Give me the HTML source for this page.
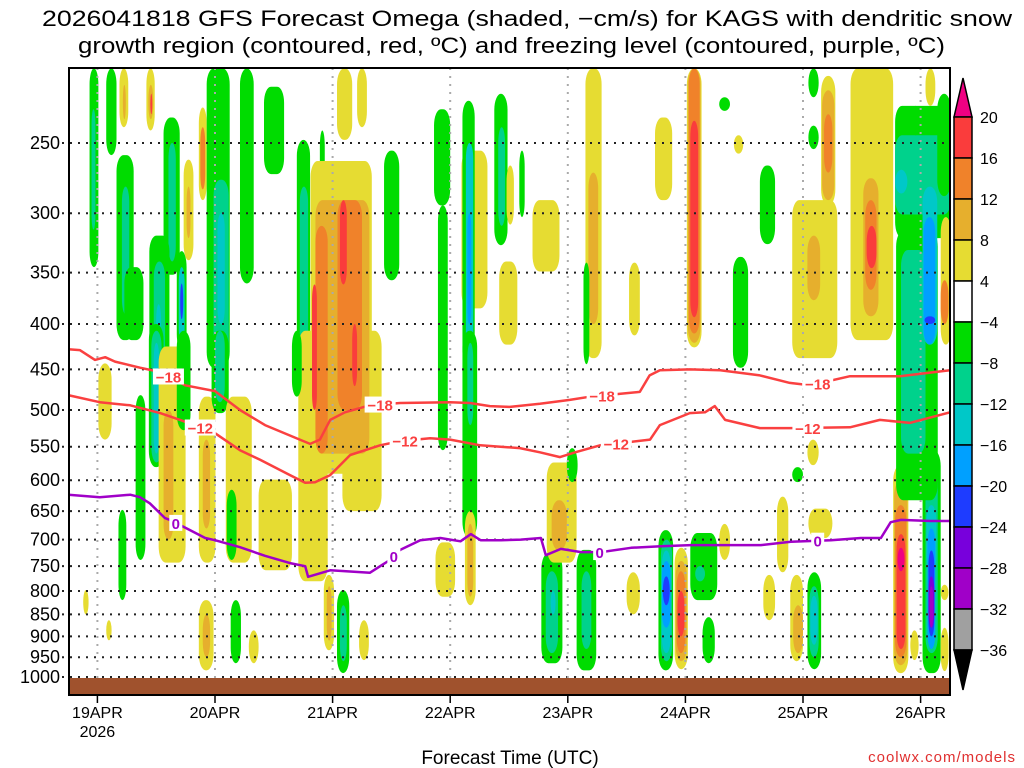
<!DOCTYPE html>
<html><head><meta charset="utf-8"><style>
html,body{margin:0;padding:0;background:#fff;}
svg{display:block;font-family:"Liberation Sans",sans-serif;}
</style></head><body>
<svg id="chart" width="1024" height="768" viewBox="0 0 1024 768">
<g font-size="22" fill="#000">
<text x="42" y="26" textLength="970" lengthAdjust="spacingAndGlyphs">2026041818 GFS Forecast Omega (shaded, −cm/s) for KAGS with dendritic snow</text>
<text x="78" y="53" textLength="867" lengthAdjust="spacingAndGlyphs">growth region (contoured, red, ºC) and freezing level (contoured, purple, ºC)</text>
</g>
<defs><clipPath id="plotclip"><rect x="70" y="68" width="880" height="627"/></clipPath></defs>
<g id="shading" clip-path="url(#plotclip)"></g>
<g id="grid"></g>
<g id="contours" clip-path="url(#plotclip)"></g>
<rect x="70" y="678" width="880" height="17" fill="#a0522d"/>
<rect x="69" y="68" width="881" height="627" fill="none" stroke="#000" stroke-width="2"/>
<g id="yaxis" font-size="18" text-anchor="end"></g>
<g id="xaxis" font-size="16" text-anchor="middle"></g>
<text x="510" y="764" font-size="19" text-anchor="middle">Forecast Time (UTC)</text>
<text x="1016" y="762" font-size="15" text-anchor="end" fill="#e03030" letter-spacing="1">coolwx.com/models</text>
<g id="colorbar" font-size="16"></g>
</svg>
<script>
// ---- data ----
const pressureLevels = [250,300,350,400,450,500,550,600,650,700,750,800,850,900,950,1000];
const dayHours = [0,24,48,72,96,120,144,168];
const dayLabels = ["19APR","20APR","21APR","22APR","23APR","24APR","25APR","26APR"];
const cbLevels = [20,16,12,8,4,-4,-8,-12,-16,-20,-24,-28,-32,-36];
// omega cells: [startHour, endHour, topHPa, bottomHPa, value]
const omegaCells = [
[-1.6,0.2,206,345,-6],[-1.2,-0.4,229,313,-10],
[1.8,3.9,206,258,-6],[3.9,7.4,258,417,-6],[5,6.5,280,390,-10],[5.5,9.4,345,417,-6],
[4.5,6.3,206,240,6],[5.2,5.8,215,235,10],
[10,11.7,206,242,6],[10.4,11.4,215,235,10],[10.8,11.2,220,232,18],
[13.5,16.8,234,352,-6],[14.5,16,250,340,-10],
[10.6,14.7,318,448,-6],[11.5,13.8,340,448,-10],[12,13,380,448,-14],
[16.2,18.2,331,428,-6],[16.6,17.8,345,420,-14],[16.9,17.5,360,395,-22],
[17.6,19.6,261,339,6],[18.2,19,280,320,10],
[20.7,22.3,228,290,6],[21,22,240,282,14],
[22.3,27,206,448,-6],[23.7,26.8,275,448,-10],[24.5,26,300,400,-14],
[29.1,31.9,206,360,-6],[34,38.1,216,271,-6],
[40.7,43.4,248,448,-6],[41.3,43,280,440,-10],[45.4,46.4,242,305,-6],
[43.5,56,262,590,6],[48.9,52,206,248,6],[53,55,206,240,6],[41,47,407,780,6],[50,58,407,650,6],
[44.5,55.5,290,560,10],[44.5,47,310,560,14],[49,54,290,500,14],
[49.5,50.9,290,361,18],[43.8,44.8,361,500,18],[52,53,400,470,18],
[58.5,61.6,255,357,-6],[68.7,72,229,294,-6],[69.5,71.5,294,555,-6],
[74.3,79.6,255,384,6],
[74.5,77,224,448,-6],[75.2,76.7,250,440,-14],[75.5,76.3,300,400,-18],
[81,83.7,220,326,-6],[81.8,83.2,240,310,-10],
[74.5,77.5,407,697,-6],[75.5,76.7,420,520,-10],
[75,77.2,650,830,6],[75.5,76.7,672,812,10],[69,73,705,812,6],
[0.2,2.9,443,540,6],
[10.5,13.5,400,580,-6],[11,13.1,407,573,-10],[11.5,12.6,420,560,-14],
[7.8,9.8,481,738,-6],
[12.5,18,424,743,6],[13.5,15.5,500,700,10],[16.2,19,407,527,-6],
[20.7,24.1,483,743,6],[21.5,23,540,680,10],
[23.3,26.8,407,504,-6],[24,26,407,490,-10],
[26.2,31.5,483,743,6],[26.4,28.4,615,738,-6],[39.7,41.7,407,483,-6],
[32.9,39.7,599,758,6],[4.3,5.9,648,819,-6],
[-2.9,-1.8,798,850,6],[1.8,2.9,863,909,6],
[20.7,23.7,819,983,6],[21.5,23,850,950,10],[27.2,29.3,819,965,-6],[30.9,32.9,886,965,6],
[46.2,48.3,767,933,6],[46.8,47.8,790,910,10],
[48.9,51.4,798,990,-6],[49.5,50.9,830,960,-10],[53.4,55.4,863,957,6],
[90.6,94.9,725,965,-6],[91.5,94,760,940,-10],[92.5,93.5,800,850,-14],
[97.8,101.8,719,983,-6],[98.8,100.8,760,930,-10],
[91.7,97.8,573,743,6],[92.7,95.8,632,720,10],[95.8,98,552,603,-6],
[108,110.7,762,850,6],
[114.5,117.5,683,983,-6],[115,117.3,700,960,-10],[115.2,117,720,940,-14],[115.2,117,740,880,-18],[115.4,116.8,770,830,-22],
[117.8,120.5,715,980,6],[118,120.3,740,960,10],[118.2,120,760,940,14],[118.4,119.8,800,900,18],
[121,126.5,688,819,-6],[122,124,750,780,-10],[123.5,126,856,965,-6],
[126.9,129.1,672,738,6],[138.7,141,626,762,6],[135.9,138.3,767,863,6],
[141.4,144,767,960,6],[142,144,830,940,10],
[144.9,147.7,762,980,-6],[145.3,147.2,790,950,-10],[145.5,147,810,920,-14],
[141.8,144,580,603,-6],[145.1,150,646,697,6],[144.9,147.2,540,577,6],
[162.4,165.5,577,990,6],[162.6,165.3,600,970,10],[162.8,165.1,640,950,14],[163.1,164.9,690,930,18],[163.3,164.7,715,760,22],
[165.9,167.6,886,957,6],
[168.4,172.1,555,990,-6],[169,171.5,577,940,-10],[169.2,171.2,640,760,-14],[169.4,171,680,930,-18],[169.6,170.8,720,900,-22],[169.6,170.8,770,880,-26],[169.8,170.6,790,880,-30],
[172.1,173.7,787,819,6],[172.1,173.7,880,985,6],
[83.5,85,265,309,6],[86.1,87.2,255,303,-6],[88.8,94.3,290,349,6],[82,85.7,340,422,6],
[99.6,102.9,206,437,6],[100.2,102.2,270,400,10],[99.2,100.4,341,444,-6],
[108.5,110.7,341,412,6],[113.8,117.3,234,290,6],
[120.3,123.3,206,425,6],[120.5,123.1,206,420,10],[120.7,122.9,206,410,14],[121,122.6,236,393,18],
[126.9,129.1,222,230,-6],[129.9,131.8,245,257,6],[135.2,138.3,265,325,-6],[129.7,132.8,336,448,-6],
[141.8,151,290,437,6],[144.9,147.5,318,376,10],
[145.1,147.2,206,222,-6],[145.1,147.2,239,254,-6],
[147.7,150.6,210,294,6],[147.9,150.4,218,290,10],[148.3,150,232,270,14],
[153.7,162.4,206,417,6],[156.3,159.4,274,392,10],[156.7,159,290,366,14],[157,159,310,346,18],
[162.8,174.2,227,320,-6],[163,171.5,314,632,-6],[164,169,330,560,-10],[162.8,174.2,245,301,-10],[162.8,165.3,268,285,-14],
[166,168,227,245,-6],[171.4,174.2,220,287,-6],
[168.4,171.4,280,422,-14],[168.6,171,303,422,-18],[168.8,171,392,400,-22],
[169,171,206,227,6],[172.1,174.2,303,422,6],[172.1,173.7,357,400,14]
];
// isotherm contours: hours and pressure (hPa)
const m18Hours = [-6,-3.6,-0.5,1.6,3.6,8.7,12.8,17.9,24,29.1,34.2,41.3,43.4,45.4,47.5,50.5,55.6,61.8,72,76,80.1,84.2,90.3,96.4,100.5,110.7,112.7,114.8,120.9,127.1,135.2,141.3,145.4,153.6,163.8,174];
const m18Press = [427,428,439,436,441,448,453,469,476,500,520,540,546,540,513,503,494,491,490,491,495,496,492,487,483,477,457,451,450,451,457,466,469,458,458,451];
const m12Hours = [-6,0.5,6.7,12.8,16.9,20.9,24,29.1,33.2,39.3,42.4,44.4,47.5,51.6,57.7,61.8,67.9,72,78.1,86.2,90.3,94.4,97.5,102.6,106.7,112.8,114.8,120.9,124,126,128.1,135.2,141.3,153.6,159.7,165.8,174];
const m12Press = [481,490,494,504,513,523,531,555,569,592,604,603,592,562,548,542,538,540,548,552,558,565,558,548,545,540,520,504,503,495,513,524,524,523,513,517,503];
const zeroHours = [-6,0.5,6.7,8.7,10.7,13.8,14.8,18.9,22,24,29.1,34.2,39.3,42.4,43,47.5,55.6,59.7,61.8,65.9,70,74.1,76.2,78.2,82.3,86.4,90.5,91.5,94.6,98.7,102.8,108.9,115,121.1,127.2,135.4,141.5,149.7,155.8,159.9,161.9,164,170.1,174];
const zeroPress = [623,627,623,627,637,662,665,683,697,701,714,730,744,750,771,758,763,738,719,701,697,703,690,701,701,700,697,729,717,723,723,715,712,710,710,710,704,701,697,697,669,665,667,667];
const m18LabelHours = [14.5,57.7,103,147];
const m12LabelHours = [21,62.8,105.9,145];
const zeroLabelHours = [16,60.5,102.5,147];

// ---- scales ----
const NS='http://www.w3.org/2000/svg';
function xS(h){return 68+(h+6)*4.9;}
function yS(p){return 143+Math.log(p/250)/Math.log(4)*534;}
function colorFor(v){
  if(v>20)return '#f00082'; if(v>16)return '#fa3c3c'; if(v>12)return '#f0822a'; if(v>8)return '#e6af2d'; if(v>4)return '#e6dc32';
  if(v<-36)return '#000'; if(v<-32)return '#a0a0a0'; if(v<-28)return '#a000c8'; if(v<-24)return '#7800dc'; if(v<-20)return '#1e3cff';
  if(v<-16)return '#00a0ff'; if(v<-12)return '#00c8c8'; if(v<-8)return '#00d28c'; if(v<-4)return '#00dc00'; return '#fff';
}
function mk(tag,attrs,parent){const e=document.createElementNS(NS,tag);for(const k in attrs)e.setAttribute(k,attrs[k]);parent.appendChild(e);return e;}

// shading
const sh=document.getElementById('shading');
omegaCells.forEach(c=>{
  const x1=xS(c[0]),x2=xS(c[1]),y1=yS(c[2]),y2=yS(c[3]);
  const w=x2-x1,h=y2-y1;
  const r=mk('rect',{x:x1,y:y1,width:w,height:h,rx:Math.min(w/2,7),ry:Math.min(h/2,16),fill:colorFor(c[4])},sh);
  
  
});

// grid + axes
const grid=document.getElementById('grid'), ya=document.getElementById('yaxis'), xa=document.getElementById('xaxis');
pressureLevels.forEach(p=>{
  const y=yS(p);
  const l=mk('line',{x1:62,x2:950,y1:y,y2:y,stroke:'#222','stroke-width':2,'stroke-dasharray':'2,6'},grid);
  
  
  const t=mk('text',{x:60,y:y+6},ya); t.textContent=p;
  
  
});
dayHours.forEach((h,i)=>{
  const x=xS(h);
  const l=mk('line',{x1:x,x2:x,y1:68,y2:695,stroke:'#aaa','stroke-width':2,'stroke-dasharray':'2,6'},grid);
  
  
  const tk=mk('line',{x1:x,x2:x,y1:695,y2:703,stroke:'#000','stroke-width':1.5},xa);
  
  
  const t=mk('text',{x:x,y:718},xa); t.textContent=dayLabels[i];
  
  
});
const yr=mk('text',{x:xS(0),y:737},xa); yr.textContent='2026';



// contours
const ct=document.getElementById('contours');
function interp(hs,ps,h){for(let i=0;i<hs.length-1;i++){if(h>=hs[i]&&h<=hs[i+1]){const f=(h-hs[i])/(hs[i+1]-hs[i]);return ps[i]+f*(ps[i+1]-ps[i]);}}return ps[ps.length-1];}
function drawLine(hs,ps,color,name,labHours,lab){
  const d=hs.map((h,i)=>(i?'L':'M')+xS(h).toFixed(1)+','+yS(ps[i]).toFixed(1)).join(' ');
  const pth=mk('path',{d:d,fill:'none',stroke:color,'stroke-width':2.5,'stroke-linejoin':'round'},ct);
  
  
  labHours.forEach(h=>{
    const x=xS(h),y=yS(interp(hs,ps,h));
    const w=lab.length*9+4;
    const bg=mk('rect',{x:x-w/2,y:y-8,width:w,height:16,fill:'#fff'},ct);
    
    
    const t=mk('text',{x:x,y:y+6,fill:color,'font-size':15,'font-weight':'bold','text-anchor':'middle'},ct);
    t.textContent=lab;
    
    
  });
}
drawLine(m18Hours,m18Press,'#fa4040','isotherm-minus18',m18LabelHours,'−18');
drawLine(m12Hours,m12Press,'#fa4040','isotherm-minus12',m12LabelHours,'−12');
drawLine(zeroHours,zeroPress,'#a000c8','freezing-level',zeroLabelHours,'0');

// colorbar
const cb=document.getElementById('colorbar');
const cbX=954,cbW=18,cbTop=117,cbStep=41;
const tri1=mk('path',{d:`M${cbX},${cbTop} L${cbX+cbW/2},78 L${cbX+cbW},${cbTop} Z`,fill:'#f00082',stroke:'#000','stroke-width':1.5},cb);


for(let i=0;i<cbLevels.length-1;i++){
  const v=(cbLevels[i]+cbLevels[i+1])/2;
  const seg=mk('rect',{x:cbX,y:cbTop+i*cbStep,width:cbW,height:cbStep,fill:colorFor(v),stroke:'#000','stroke-width':1.5},cb);
  
  
}
const yb=cbTop+(cbLevels.length-1)*cbStep;
const tri2=mk('path',{d:`M${cbX},${yb} L${cbX+cbW/2},690 L${cbX+cbW},${yb} Z`,fill:'#000',stroke:'#000','stroke-width':1.5},cb);


cbLevels.forEach((v,i)=>{
  const t=mk('text',{x:980,y:cbTop+i*cbStep+6},cb);
  t.textContent=(v<0?'−':'')+Math.abs(v);
  
  
});
</script>
</body></html>
